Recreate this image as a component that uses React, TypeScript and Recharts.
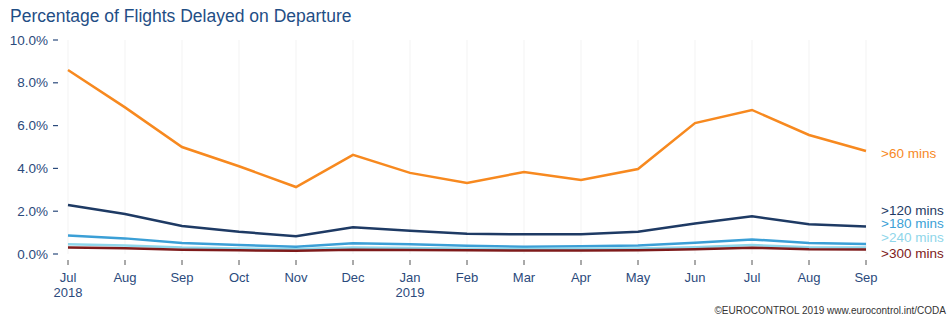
import React from "react";
import { LineChart, Line, XAxis, YAxis, CartesianGrid, LabelList } from "recharts";

const months = ["Jul", "Aug", "Sep", "Oct", "Nov", "Dec", "Jan", "Feb", "Mar", "Apr", "May", "Jun", "Jul", "Aug", "Sep"];
const years = ["2018", "", "", "", "", "", "2019", "", "", "", "", "", "", "", ""];

const over60 = [8.6, 6.85, 5.0, 4.1, 3.13, 4.63, 3.79, 3.32, 3.83, 3.46, 3.97, 6.12, 6.73, 5.56, 4.81];
const over120 = [2.29, 1.87, 1.31, 1.04, 0.83, 1.25, 1.09, 0.95, 0.92, 0.92, 1.04, 1.43, 1.76, 1.39, 1.28];
const over180 = [0.86, 0.73, 0.51, 0.42, 0.34, 0.5, 0.45, 0.39, 0.34, 0.36, 0.4, 0.52, 0.68, 0.51, 0.47];
const over240 = [0.45, 0.4, 0.3, 0.26, 0.22, 0.3, 0.28, 0.25, 0.23, 0.24, 0.26, 0.32, 0.42, 0.32, 0.3];
const over300 = [0.3, 0.27, 0.2, 0.17, 0.15, 0.2, 0.19, 0.17, 0.16, 0.16, 0.17, 0.22, 0.29, 0.22, 0.21];

const yTicks = [0, 2, 4, 6, 8, 10];

const data = months.map((m, i) => ({
  idx: i,
  m60: over60[i],
  m120: over120[i],
  m180: over180[i],
  m240: over240[i],
  m300: over300[i],
}));

const series = [
  { key: "m60", name: ">60 mins", color: "#f7891f", dy: 2 },
  { key: "m120", name: ">120 mins", color: "#1e3a64", dy: -16 },
  { key: "m180", name: ">180 mins", color: "#3b9fd6", dy: -20 },
  { key: "m240", name: ">240 mins", color: "#8fd6ea", dy: -10 },
  { key: "m300", name: ">300 mins", color: "#7e1a1a", dy: 4 },
];

const font = "Liberation Sans, Arial, sans-serif";

const YTick = (props: any) => {
  const { x, y, payload } = props;
  return (
    <g>
      <text x={x - 12} y={y} dy={4.5} textAnchor="end" fill="#2b4a7c" fontSize={13.5} fontFamily={font}>
        {payload.value.toFixed(1) + "%"}
      </text>
      <line x1={x - 7} x2={x - 2} y1={y} y2={y} stroke="#2b4a7c" strokeWidth={1.2} />
    </g>
  );
};

const XTick = (props: any) => {
  const { x, y, payload } = props;
  const i = payload.value;
  return (
    <g>
      <line x1={x} x2={x} y1={y - 2} y2={y + 3} stroke="#555" strokeWidth={1} />
      <text x={x} y={y + 20} textAnchor="middle" fill="#2b4a7c" fontSize={13} fontFamily={font}>
        {months[i]}
      </text>
      {years[i] && (
        <text x={x} y={y + 35} textAnchor="middle" fill="#2b4a7c" fontSize={13} fontFamily={font}>
          {years[i]}
        </text>
      )}
    </g>
  );
};

const makeEndLabel = (name: string, color: string, dy: number) => (props: any) => {
  const { x, y, index } = props;
  if (index !== months.length - 1) return null;
  return (
    <text x={x + 15} y={y + dy} dy={4.5} fill={color} fontSize={13.5} fontFamily={font}>
      {name}
    </text>
  );
};

const App = () => {
  return (
    <div style={{ position: "absolute", left: 0, top: 0, width: 950, height: 319, background: "#fff" }}>
      <div
        style={{
          position: "absolute",
          left: 10,
          top: 6,
          fontFamily: font,
          fontSize: 17.5,
          color: "#1f4e85",
        }}
      >
        Percentage of Flights Delayed on Departure
      </div>
      <LineChart width={950} height={319} data={data} margin={{ top: 40, right: 84, left: 0, bottom: 20 }}>
        <CartesianGrid vertical horizontal={false} stroke="#f3f3f3" />
        <XAxis
          dataKey="idx"
          type="number"
          domain={[0, months.length - 1]}
          ticks={months.map((_, i) => i)}
          interval={0}
          axisLine={false}
          tickLine={false}
          tick={<XTick />}
          height={45}
        />
        <YAxis
          domain={[0, 10]}
          ticks={yTicks}
          axisLine={false}
          tickLine={false}
          tick={<YTick />}
          width={68}
        />
        {series.map((s) => (
          <Line
            key={s.key}
            dataKey={s.key}
            stroke={s.color}
            strokeWidth={2.5}
            dot={false}
            type="linear"
            isAnimationActive={false}
          >
            <LabelList dataKey={s.key} content={makeEndLabel(s.name, s.color, s.dy)} />
          </Line>
        ))}
      </LineChart>
      <div
        style={{
          position: "absolute",
          right: 4,
          top: 305,
          fontFamily: font,
          fontSize: 10,
          color: "#333",
        }}
      >
        ©EUROCONTROL 2019 www.eurocontrol.int/CODA
      </div>
    </div>
  );
};

export default App;
